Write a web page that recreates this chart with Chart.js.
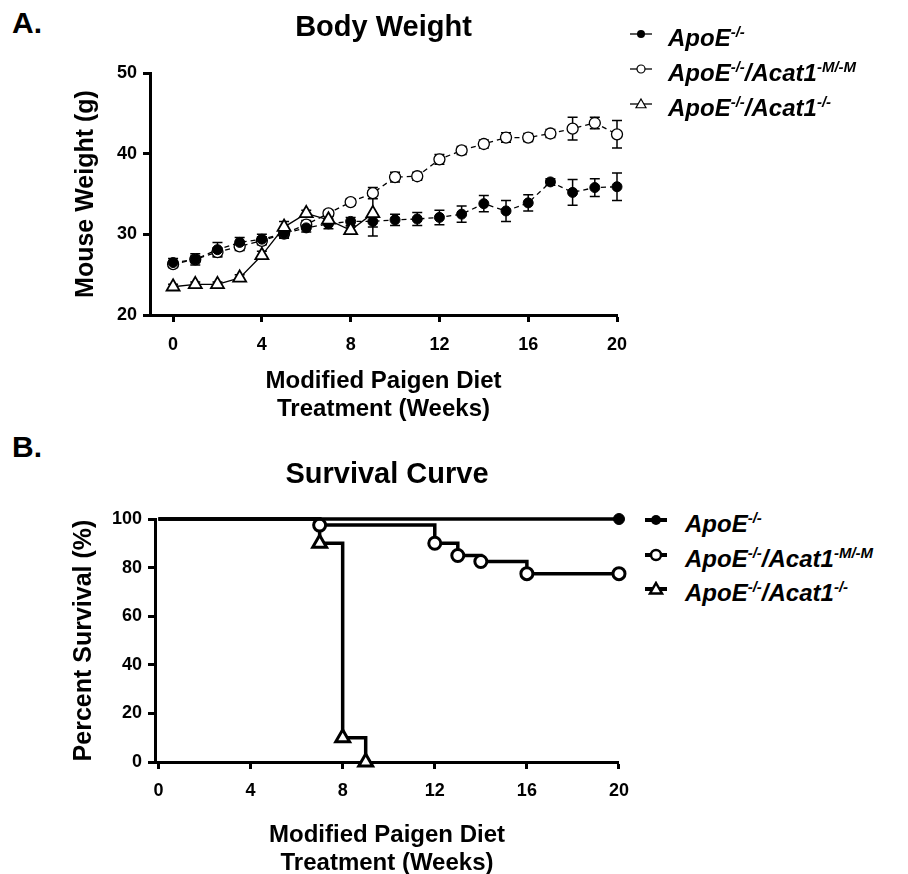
<!DOCTYPE html>
<html>
<head>
<meta charset="utf-8">
<script src="https://cdn.jsdelivr.net/npm/chart.js@4.4.1/dist/chart.umd.min.js"></script>
<style>
  body { margin: 0; background: #fff; width: 908px; height: 874px; position: relative; overflow: hidden;
         font-family: "Liberation Sans", Arial, sans-serif; color: #000; }
  .panel { position: absolute; left: 12px; font-weight: bold; font-size: 30px; line-height: 30px; }
  canvas { position: absolute; left: 0; }
  .row { position: absolute; height: 34px; white-space: nowrap; }
  .row svg { position: absolute; left: 0; top: 5px; }
  .row span { position: absolute; top: 0; font-style: italic; font-weight: bold; font-size: 24px; line-height: 34px; }
  sup { font-size: 15px; line-height: 0; vertical-align: baseline; position: relative; top: -9px; }
</style>
</head>
<body>
<div class="panel" style="top:8px">A.</div>
<div class="panel" style="top:432px">B.</div>
<canvas id="weightChart" width="640" height="435" style="top:0"></canvas>
<canvas id="survivalChart" width="640" height="434" style="top:440px"></canvas>
<div id="legendA"></div>
<div id="legendB"></div>
<script>
// Body weight (mean and SEM, grams) per week
const weeks = [0, 1, 2, 3, 4, 5, 6, 7, 8, 9, 10, 11, 12, 13, 14, 15, 16, 17, 18, 19, 20];
const apoeWeight = [26.5, 26.9, 28.1, 29.0, 29.4, 30.1, 30.8, 31.3, 31.6, 31.6, 31.8, 31.9, 32.1, 32.5, 33.8, 32.9, 33.9, 36.5, 35.2, 35.8, 35.9];
const apoeSem = [0.5, 0.7, 0.9, 0.6, 0.6, 0.6, 0.5, 0.6, 0.5, 0.7, 0.7, 0.8, 0.9, 1.0, 1.0, 1.3, 1.0, 0.4, 1.6, 1.1, 1.7];
const mutWeight = [26.3, 26.9, 27.8, 28.5, 29.2, 30.1, 31.2, 32.6, 34.0, 35.1, 37.1, 37.2, 39.3, 40.4, 41.2, 42.0, 42.0, 42.5, 43.1, 43.8, 42.4];
const mutSem = [0.4, 0.4, 0.5, 0.5, 0.5, 0.5, 0.5, 0.4, 0.4, 0.7, 0.6, 0.5, 0.6, 0.5, 0.5, 0.6, 0.5, 0.5, 1.4, 0.7, 1.7];
const koWeight = [23.5, 23.8, 23.8, 24.6, 27.4, 30.9, 32.6, 31.8, 30.5, 32.6];
const koSem = [0.3, 0.3, 0.3, 0.4, 0.5, 0.7, 0.4, 0.5, 0.4, 2.8];

// Survival (%) at each event week
const survApoeWeeks = [0, 20];
const survApoe = [100, 100];
const survMutWeeks = [0, 7, 12, 13, 14, 16, 20];
const survMut = [100, 97.5, 90, 85, 82.5, 77.5, 77.5];
const survKoWeeks = [0, 7, 8, 9];
const survKo = [100, 90, 10, 0];

const weekTicks = [0, 4, 8, 12, 16, 20];
const weightTicks = [20, 30, 40, 50];
const survivalTicks = [0, 20, 40, 60, 80, 100];

const seriesLabels = ['ApoE-/-', 'ApoE-/-/Acat1-M/-M', 'ApoE-/-/Acat1-/-'];
const seriesParts = [
    [['ApoE', '-/-']],
    [['ApoE', '-/-'], ['/Acat1', '-M/-M']],
    [['ApoE', '-/-'], ['/Acat1', '-/-']]
];

Chart.defaults.font.family = '"Liberation Sans", Arial, sans-serif';
Chart.defaults.color = '#000';
Chart.defaults.animation = false;

function points(xs, ys) {
    return ys.map((y, i) => ({ x: xs[i], y: y }));
}

// error bars drawn under the markers
const errorBars = {
    id: 'errorBars',
    beforeDatasetsDraw(chart) {
        const ctx = chart.ctx;
        const yScale = chart.scales.y;
        chart.data.datasets.forEach((ds, i) => {
            if (!ds.errors) return;
            const meta = chart.getDatasetMeta(i);
            ctx.save();
            ctx.strokeStyle = '#000';
            ctx.lineWidth = 1.5;
            meta.data.forEach((pt, j) => {
                const v = ds.data[j].y;
                const e = ds.errors[j];
                if (v == null || e == null) return;
                const top = yScale.getPixelForValue(v + e);
                const bot = yScale.getPixelForValue(v - e);
                const cap = 5;
                ctx.beginPath();
                ctx.moveTo(pt.x, top); ctx.lineTo(pt.x, bot);
                ctx.moveTo(pt.x - cap, top); ctx.lineTo(pt.x + cap, top);
                ctx.moveTo(pt.x - cap, bot); ctx.lineTo(pt.x + cap, bot);
                ctx.stroke();
            });
            ctx.restore();
        });
    }
};

function axisLook(tickValues, fitFn) {
    return {
        afterBuildTicks: s => { s.ticks = tickValues.map(v => ({ value: v })); },
        afterFit: fitFn,
        border: { color: '#000', width: 3 },
        grid: { drawOnChartArea: false, drawTicks: true, tickLength: 7, tickWidth: 3, color: '#000' }
    };
}

// Body Weight chart
new Chart(document.getElementById('weightChart'), {
    type: 'line',
    data: {
        datasets: [{
            label: seriesLabels[0],
            data: points(weeks, apoeWeight),
            errors: apoeSem,
            borderColor: '#000', borderWidth: 1.3, borderDash: [5, 4],
            pointStyle: 'circle', pointRadius: 5, pointBackgroundColor: '#000', pointBorderColor: '#000', pointBorderWidth: 1,
            clip: false, order: 1
        }, {
            label: seriesLabels[1],
            data: points(weeks, mutWeight),
            errors: mutSem,
            borderColor: '#000', borderWidth: 1.3, borderDash: [5, 4],
            pointStyle: 'circle', pointRadius: 5.5, pointBackgroundColor: '#fff', pointBorderColor: '#000', pointBorderWidth: 1.3,
            clip: false, order: 2
        }, {
            label: seriesLabels[2],
            data: points(weeks, koWeight),
            errors: koSem,
            borderColor: '#000', borderWidth: 1.3,
            pointStyle: 'triangle', pointRadius: 7.5, pointBackgroundColor: '#fff', pointBorderColor: '#000', pointBorderWidth: 1.8,
            clip: false, order: 0
        }]
    },
    options: {
        responsive: false,
        layout: { padding: { left: 0, right: 23, top: 0, bottom: 0 } },
        plugins: {
            legend: { display: false },
            tooltip: { enabled: false },
            title: {
                display: true, text: 'Body Weight', fullSize: false, color: '#000',
                font: { size: 29, weight: 'bold' }, padding: { top: 11, bottom: 27.2 }
            }
        },
        scales: {
            x: Object.assign(axisLook(weekTicks, s => { s.height = 120; }), {
                type: 'linear', min: -1.04, max: 20,
                ticks: { font: { size: 18, weight: 'bold' }, padding: 12, maxRotation: 0, autoSkip: false },
                title: {
                    display: true, text: ['Modified Paigen Diet', 'Treatment (Weeks)'],
                    font: { size: 24, weight: 'bold', lineHeight: '28px' }, padding: { top: 0, bottom: 12 }
                }
            }),
            y: Object.assign(axisLook(weightTicks, s => { s.width = 150; }), {
                min: 20, max: 50,
                ticks: { font: { size: 18, weight: 'bold' }, padding: 6 },
                title: {
                    display: true, text: 'Mouse Weight (g)',
                    font: { size: 25, weight: 'bold' }, padding: { top: 71, bottom: 0 }
                }
            })
        }
    },
    plugins: [errorBars]
});

// Survival Curve chart
function eventRadius(xs, r) {
    return xs.map((w, i) => (i === 0 ? 0 : r));
}

new Chart(document.getElementById('survivalChart'), {
    type: 'line',
    data: {
        datasets: [{
            label: seriesLabels[0],
            data: points(survApoeWeeks, survApoe),
            borderColor: '#000', borderWidth: 3.5, stepped: 'before',
            pointStyle: 'circle', pointRadius: eventRadius(survApoeWeeks, 5.5),
            pointBackgroundColor: '#000', pointBorderColor: '#000', pointBorderWidth: 1,
            clip: false
        }, {
            label: seriesLabels[1],
            data: points(survMutWeeks, survMut),
            borderColor: '#000', borderWidth: 3.5, stepped: 'before',
            pointStyle: 'circle', pointRadius: eventRadius(survMutWeeks, 6),
            pointBackgroundColor: '#fff', pointBorderColor: '#000', pointBorderWidth: 3,
            clip: false
        }, {
            label: seriesLabels[2],
            data: points(survKoWeeks, survKo),
            borderColor: '#000', borderWidth: 3.5, stepped: 'before',
            pointStyle: 'triangle', pointRadius: eventRadius(survKoWeeks, 8),
            pointBackgroundColor: '#fff', pointBorderColor: '#000', pointBorderWidth: 3,
            clip: false
        }]
    },
    options: {
        responsive: false,
        layout: { padding: { left: 0, right: 20, top: 0, bottom: 0 } },
        plugins: {
            legend: { display: false },
            tooltip: { enabled: false },
            title: {
                display: true, text: 'Survival Curve', fullSize: false, color: '#000',
                font: { size: 29, weight: 'bold' }, padding: { top: 17.6, bottom: 26.6 }
            }
        },
        scales: {
            x: Object.assign(axisLook(weekTicks, s => { s.height = 112; }), {
                type: 'linear', min: -0.15, max: 20,
                ticks: { font: { size: 18, weight: 'bold' }, padding: 11, maxRotation: 0, autoSkip: false },
                title: {
                    display: true, text: ['Modified Paigen Diet', 'Treatment (Weeks)'],
                    font: { size: 24, weight: 'bold', lineHeight: '28px' }, padding: { top: 0, bottom: -3 }
                }
            }),
            y: Object.assign(axisLook(survivalTicks, s => { s.width = 155; }), {
                min: 0, max: 100,
                ticks: { font: { size: 18, weight: 'bold' }, padding: 6 },
                title: {
                    display: true, text: 'Percent Survival (%)',
                    font: { size: 25, weight: 'bold' }, padding: { top: 69, bottom: 0 }
                }
            })
        }
    }
});

// HTML legends (superscripts need real markup)
function icon(kind, heavy) {
    const lw = heavy ? 4 : 1.3;
    const mw = heavy ? 2.5 : 1.2;
    const r = heavy ? 5 : 4;
    let mark;
    if (kind === 'filled') {
        mark = `<circle cx="11" cy="8" r="${r}" fill="#000"/>`;
    } else if (kind === 'open') {
        mark = `<circle cx="11" cy="8" r="${r}" fill="#fff" stroke="#000" stroke-width="${mw}"/>`;
    } else {
        const h = heavy ? 6 : 5;
        mark = `<polygon points="11,${8 - h} ${11 + h},${8 + h * 0.75} ${11 - h},${8 + h * 0.75}" fill="#fff" stroke="#000" stroke-width="${mw}" stroke-linejoin="miter"/>`;
    }
    return `<svg width="22" height="16" viewBox="0 0 22 16"><line x1="0" y1="8" x2="22" y2="8" stroke="#000" stroke-width="${lw}"/>${mark}</svg>`;
}

function buildLegend(el, left, textOffset, centers, heavy) {
    const kinds = ['filled', 'open', 'triangle'];
    el.innerHTML = seriesParts.map((parts, i) => {
        const text = parts.map(p => `${p[0]}<sup>${p[1]}</sup>`).join('');
        return `<div class="row" style="left:${left}px;top:${centers[i] - 13.4}px">` +
            icon(kinds[i], heavy) +
            `<span style="left:${textOffset}px">${text}</span></div>`;
    }).join('');
}

buildLegend(document.getElementById('legendA'), 630, 38, [34, 69, 104], false);
buildLegend(document.getElementById('legendB'), 645, 40, [520, 555, 589], true);
</script>
</body>
</html>
